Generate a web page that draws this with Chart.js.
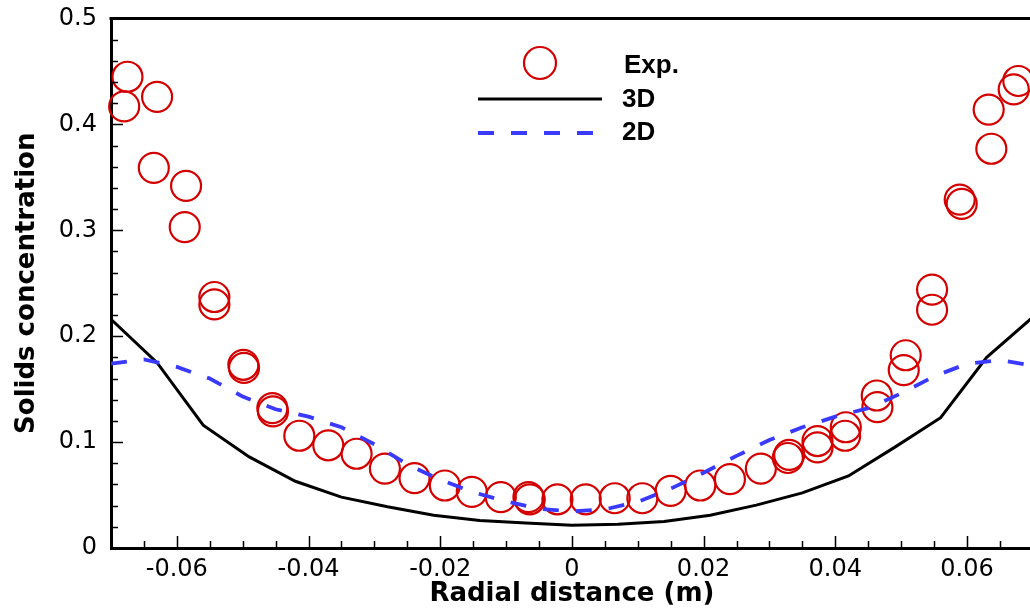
<!DOCTYPE html>
<html>
<head>
<meta charset="utf-8">
<title>Solids concentration vs radial distance</title>
<script src="https://cdn.jsdelivr.net/npm/chart.js@4/dist/chart.umd.min.js"></script>
<style>
    html, body { margin: 0; padding: 0; background: #fff; overflow: hidden; }
    #wrap { width: 1030px; height: 610px; overflow: hidden; }
</style>
</head>
<body>
<div id="wrap"><canvas id="chart" width="1050" height="610"></canvas></div>
<script>
// ---- data ----
const expX = [-0.0680, -0.0675, -0.0630, -0.0635, -0.0586, -0.0588, -0.0543, -0.0543, -0.0499, -0.0498,
              -0.0455, -0.0454, -0.0414, -0.0370, -0.0327, -0.0284, -0.0239, -0.0193, -0.0152, -0.0108,
              -0.0066, -0.0064, -0.0022, 0.0021, 0.0065, 0.0107, 0.0150, 0.0195, 0.0240, 0.0287,
              0.0330, 0.0328, 0.0373, 0.0373, 0.0416, 0.0415, 0.0463, 0.0464, 0.0507, 0.0504,
              0.0547, 0.0547, 0.0589, 0.0592, 0.0637, 0.0633, 0.0671, 0.0678];
const expY = [0.417, 0.445, 0.426, 0.359, 0.342, 0.303, 0.237, 0.230, 0.173, 0.170,
              0.132, 0.129, 0.106, 0.097, 0.089, 0.075, 0.066, 0.059, 0.053, 0.048,
              0.048, 0.046, 0.046, 0.046, 0.047, 0.047, 0.054, 0.059, 0.065, 0.075,
              0.088, 0.085, 0.101, 0.095, 0.114, 0.106, 0.144, 0.133, 0.182, 0.168,
              0.244, 0.225, 0.329, 0.325, 0.377, 0.414, 0.433, 0.441];

const sim3dX = [-0.07, -0.063, -0.056, -0.049, -0.042, -0.035, -0.028, -0.021, -0.014, -0.007, 0,
                0.007, 0.014, 0.021, 0.028, 0.035, 0.042, 0.049, 0.056, 0.063, 0.07];
const sim3dY = [0.216, 0.175, 0.116, 0.086, 0.063, 0.048, 0.039, 0.031, 0.026, 0.0235, 0.0215,
                0.0225, 0.025, 0.031, 0.0405, 0.052, 0.068, 0.095, 0.123, 0.180, 0.218];

const sim2dX = [-0.07, -0.065, -0.06, -0.055, -0.05, -0.045, -0.04, -0.035, -0.03, -0.025, -0.02,
                -0.015, -0.01, -0.005, 0, 0.005, 0.01, 0.015, 0.02, 0.025, 0.03, 0.035, 0.04,
                0.045, 0.05, 0.055, 0.06, 0.065, 0.07];
const sim2dY = [0.174, 0.178, 0.171, 0.160, 0.143, 0.131, 0.124, 0.114, 0.098, 0.079, 0.0645,
                0.0527, 0.044, 0.037, 0.0345, 0.0365, 0.0435, 0.056, 0.071, 0.087, 0.102, 0.114, 0.124,
                0.132, 0.146, 0.162, 0.174, 0.1775, 0.172];

const xTickValues = [-0.06, -0.04, -0.02, 0, 0.02, 0.04, 0.06];
const xTickLabels = ["-0.06", "-0.04", "-0.02", "0", "0.02", "0.04", "0.06"];
const yTickValues = [0, 0.1, 0.2, 0.3, 0.4, 0.5];
const yTickLabels = ["0", "0.1", "0.2", "0.3", "0.4", "0.5"];
const seriesNames = ["Exp.", "3D", "2D"];

const RED = "#d40000";
const BLUE = "#3a3aff";
const WIDE_FONT = "'DejaVu Sans', 'Liberation Sans', sans-serif";

const toPoints = (xs, ys) => xs.map((x, i) => ({ x: x, y: ys[i] }));

Chart.defaults.font.family = WIDE_FONT;
Chart.defaults.color = "#000";

// inward major/minor ticks + top frame line
const frameTicks = {
    id: "frameTicks",
    afterDraw(chart) {
        const { ctx, chartArea: a, scales: { x, y } } = chart;
        ctx.save();
        ctx.strokeStyle = "#000";
        ctx.lineWidth = 1.5;
        ctx.beginPath();
        for (let i = -14; i <= 14; i++) {
            const v = i * 0.005;
            const px = Math.round(x.getPixelForValue(v)) + 0.5;
            const len = (i % 4 === 0) ? 12 : 7;
            ctx.moveTo(px, a.bottom);
            ctx.lineTo(px, a.bottom - len);
        }
        for (let j = 1; j < 25; j++) {
            const v = j * 0.02;
            const py = Math.round(y.getPixelForValue(v)) + 0.5;
            const len = (j % 5 === 0) ? 12 : 7;
            ctx.moveTo(a.left, py);
            ctx.lineTo(a.left + len, py);
        }
        ctx.stroke();
        ctx.lineWidth = 3;
        ctx.beginPath();
        ctx.moveTo(a.left - 1.5, a.top);
        ctx.lineTo(a.right + 2, a.top);
        ctx.stroke();
        ctx.restore();
    }
};

// legend drawn inside the plot like the original
const innerLegend = {
    id: "innerLegend",
    afterDraw(chart) {
        const ctx = chart.ctx;
        const ds = chart.data.datasets;
        ctx.save();
        ctx.strokeStyle = ds[0].borderColor;
        ctx.lineWidth = ds[0].borderWidth;
        ctx.beginPath();
        ctx.arc(540, 63, 16, 0, Math.PI * 2);
        ctx.stroke();

        ctx.strokeStyle = ds[1].borderColor;
        ctx.lineWidth = ds[1].borderWidth;
        ctx.beginPath();
        ctx.moveTo(478, 99);
        ctx.lineTo(602, 99);
        ctx.stroke();

        ctx.strokeStyle = ds[2].borderColor;
        ctx.lineWidth = ds[2].borderWidth;
        ctx.setLineDash(ds[2].borderDash);
        ctx.beginPath();
        ctx.moveTo(478, 133);
        ctx.lineTo(602, 133);
        ctx.stroke();
        ctx.setLineDash([]);

        ctx.fillStyle = "#000";
        ctx.font = "bold 26px 'Liberation Sans', Arial, sans-serif";
        ctx.textBaseline = "middle";
        ctx.textAlign = "left";
        ctx.fillText(seriesNames[0], 624, 66);
        ctx.fillText(seriesNames[1], 622, 100);
        ctx.fillText(seriesNames[2], 622, 133);
        ctx.restore();
    }
};

new Chart(document.getElementById("chart"), {
    type: "scatter",
    data: {
        datasets: [{
            label: seriesNames[0],
            data: toPoints(expX, expY),
            showLine: false,
            pointStyle: "circle",
            pointRadius: 15,
            pointHoverRadius: 15,
            pointBackgroundColor: "rgba(0,0,0,0)",
            borderColor: RED,
            pointBorderColor: RED,
            borderWidth: 2.2,
            pointBorderWidth: 2.2,
            clip: false,
            order: 3
        }, {
            label: seriesNames[1],
            data: toPoints(sim3dX, sim3dY),
            showLine: true,
            borderColor: "#000",
            borderWidth: 3,
            pointRadius: 0,
            tension: 0,
            order: 2
        }, {
            label: seriesNames[2],
            data: toPoints(sim2dX, sim2dY),
            showLine: true,
            borderColor: BLUE,
            borderWidth: 3.8,
            borderDash: [16, 17],
            pointRadius: 0,
            tension: 0,
            order: 1
        }]
    },
    options: {
        responsive: false,
        devicePixelRatio: 1,
        animation: false,
        layout: { padding: { top: 18.5, right: 9.5, left: 0, bottom: 0 } },
        plugins: { legend: { display: false }, tooltip: { enabled: false } },
        scales: {
            x: {
                type: "linear",
                min: -0.07,
                max: 0.07,
                afterBuildTicks: (scale) => { scale.ticks = xTickValues.map(v => ({ value: v })); },
                afterFit: (scale) => {
                    scale.height = 62;
                    scale.paddingLeft = 0;
                    scale.paddingRight = 0;
                },
                ticks: {
                    padding: 7,
                    font: { size: 24 },
                    callback: (v, i) => xTickLabels[i]
                },
                grid: { display: false, drawTicks: false },
                border: { display: true, width: 3, color: "#000" },
                title: {
                    display: true,
                    text: "Radial distance (m)",
                    font: { size: 26, weight: "bold" },
                    padding: { top: 0, bottom: 0 }
                }
            },
            y: {
                type: "linear",
                min: 0,
                max: 0.5,
                afterBuildTicks: (scale) => { scale.ticks = yTickValues.map(v => ({ value: v })); },
                afterFit: (scale) => {
                    scale.width = 111;
                    scale.paddingTop = 0;
                    scale.paddingBottom = 0;
                },
                ticks: {
                    padding: 14,
                    font: { size: 24 },
                    callback: (v, i) => yTickLabels[i]
                },
                grid: { display: false, drawTicks: false },
                border: { display: true, width: 3, color: "#000" },
                title: {
                    display: true,
                    text: "Solids concentration",
                    font: { size: 26, weight: "bold" },
                    padding: { top: 12, bottom: 0 }
                }
            }
        }
    },
    plugins: [frameTicks, innerLegend]
});
</script>
</body>
</html>
